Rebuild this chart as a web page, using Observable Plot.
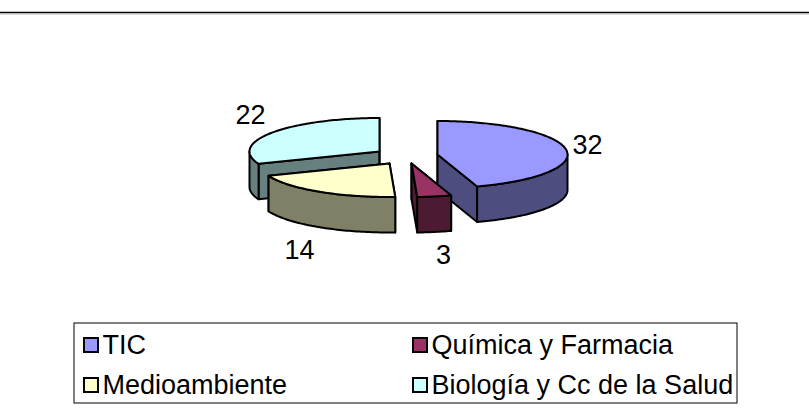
<!DOCTYPE html>
<html>
<head>
<meta charset="utf-8">
<script src="https://cdn.jsdelivr.net/npm/d3@7"></script>
<script src="https://cdn.jsdelivr.net/npm/@observablehq/plot@0.6"></script>
<style>html,body{margin:0;padding:0;background:#fff}svg{display:block}</style>
</head>
<body>
<div id="chart"></div>
<script>
const categories = ["TIC", "Química y Farmacia", "Medioambiente", "Biología y Cc de la Salud"];
const values = [32, 3, 14, 22];
const topColors = ["#9999FF", "#993366", "#FFFFCC", "#CCFFFF"];
const wallColors = ["#4D4D80", "#4D1A33", "#808066", "#668080"];

// Layout of the exploded pie, in the scale space of the page
const apexX = [437, 411, 389, 379];
const apexY = [154, 163, 163, 151];
const labelX = [587, 443, 299, 250];
const labelY = [145, 255, 250, 115];
const rx = 130, ry = 33.5, depth = 35.5;
const W = 809, H = 414;

const total = d3.sum(values);
let acc = 0;
const slices = values.map((v, i) => {
  const a0 = acc / total * 2 * Math.PI; acc += v;
  return {i, a0, a1: acc / total * 2 * Math.PI, cx: apexX[i], cy: apexY[i]};
});
const rim = (s, a, dz = 0) => ({x: s.cx + rx * Math.sin(a), y: s.cy - ry * Math.cos(a) + dz});
const arc = (s, a0, a1, dz = 0) => {
  const n = Math.max(2, Math.ceil(Math.abs(a1 - a0) / 0.02));
  return d3.range(n + 1).map(k => rim(s, a0 + (a1 - a0) * k / n, dz));
};
const poly = (points, fill) => Plot.line([...points, points[0]], {
  x: "x", y: "y", fill, stroke: "#000", strokeWidth: 2, strokeLinejoin: "round", curve: "linear"
});

const marks = [];
marks.push(Plot.ruleY([12], {stroke: "#000", strokeWidth: 1.3}));
marks.push(Plot.ruleY([13.5], {stroke: "#aaa", strokeWidth: 0.8}));

// back to front: Biología, TIC, Medioambiente, Química
for (const s of [slices[3], slices[0], slices[2], slices[1]]) {
  const apex = {x: s.cx, y: s.cy}, apexB = {x: s.cx, y: s.cy + depth};
  for (const a of [s.a0, s.a1]) {
    marks.push(poly([apex, rim(s, a), rim(s, a, depth), apexB], wallColors[s.i]));
  }
  // only the front half of the rim has a visible outer wall
  const lo = Math.max(s.a0, Math.PI / 2), hi = Math.min(s.a1, 3 * Math.PI / 2);
  if (hi > lo) {
    marks.push(poly([...arc(s, lo, hi), ...arc(s, hi, lo, depth)], wallColors[s.i]));
  }
  marks.push(poly([apex, ...arc(s, s.a0, s.a1)], topColors[s.i]));
}

// value labels
marks.push(Plot.text(values, {
  x: (d, i) => labelX[i], y: (d, i) => labelY[i], text: d => String(d),
  fontSize: 27, fill: "#000", textAnchor: "middle", lineAnchor: "middle"
}));

// legend
const legendX = [84, 413], legendY = [345, 385], swatch = 14;
const legend = categories.map((name, i) => ({name, i, x: legendX[i % 2], y: legendY[i >> 1]}));
marks.push(Plot.rect([{}], {x1: 74, x2: 737, y1: 323, y2: 403, fill: "#fff", stroke: "#000", strokeWidth: 1}));
marks.push(Plot.rect(legend, {
  x1: d => d.x, x2: d => d.x + swatch, y1: d => d.y - swatch / 2, y2: d => d.y + swatch / 2,
  fill: d => topColors[d.i], stroke: "#000", strokeWidth: 2
}));
marks.push(Plot.text(legend, {
  x: d => d.x + swatch + 4, y: "y", text: "name",
  fontSize: 27, fill: "#000", textAnchor: "start", lineAnchor: "middle"
}));

const chart = Plot.plot({
  width: W, height: H, margin: 0,
  x: {domain: [0, W], range: [0, W], axis: null},
  y: {domain: [0, H], range: [0, H], axis: null},
  style: {fontFamily: "'Liberation Sans', Arial, sans-serif", background: "#fff"},
  marks
});
document.getElementById("chart").append(chart);
</script>
</body>
</html>
